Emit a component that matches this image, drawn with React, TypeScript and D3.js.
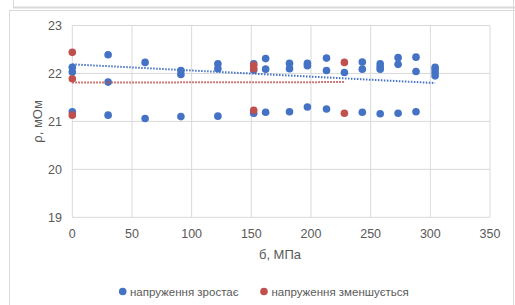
import * as d3 from "d3";

// напруження зростає (blue)
const incX = [0, 0, 0, 30, 30, 30, 61, 61, 91, 91, 91, 122, 122, 122, 152, 152, 152, 162, 162, 162, 182, 182, 182, 197, 197, 197, 213, 213, 213, 228, 243, 243, 243, 258, 258, 258, 258, 273, 273, 273, 288, 288, 288, 304, 304, 304, 304];
const incY = [22.13, 22.03, 21.2, 22.39, 21.82, 21.13, 22.23, 21.06, 22.06, 21.98, 21.1, 22.2, 22.1, 21.11, 22.2, 22.07, 21.17, 22.31, 22.09, 21.19, 22.21, 22.1, 21.2, 22.21, 22.16, 21.3, 22.32, 22.06, 21.26, 22.02, 22.24, 22.09, 21.19, 22.2, 22.14, 22.09, 21.16, 22.33, 22.19, 21.17, 22.34, 22.04, 21.2, 22.13, 22.08, 22.02, 21.95];
// напруження зменшується (red)
const decX = [0, 0, 0, 152, 152, 152, 228, 228];
const decY = [22.44, 21.89, 21.13, 22.17, 22.1, 21.23, 22.23, 21.17];
// linear trend lines
const incTrendX = [0, 304];
const incTrendY = [22.19, 21.8];
const decTrendX = [0, 228];
const decTrendY = [21.81, 21.82];

const xTicks = [0, 50, 100, 150, 200, 250, 300, 350];
const yTicks = [19, 20, 21, 22, 23];
const seriesNames = ["напруження зростає", "напруження зменшується"];
const BLUE = "#4472C4", RED = "#C0504D";

export default function App() {
  const W = 515, H = 305;
  const sx = d3.scaleLinear().domain([0, 350]).range([72.3, 490]);
  const sy = d3.scaleLinear().domain([19, 23]).range([217.3, 25.5]);
  const font = "'Liberation Sans', Arial, sans-serif";
  const trend = (xs: number[], ys: number[]) =>
    d3.line<number>().x(v => sx(v)).y((_, i) => sy(ys[i]))(xs) || "";
  return (
    <svg width={W} height={H} style={{ position: "fixed", left: 0, top: 0, background: "#fff", fontFamily: font }}>
      <rect x={0} y={0} width={W} height={H} fill="#fff" />
      {/* frames */}
      <line x1={13} x2={W} y1={7.5} y2={7.5} stroke="#d9d9d9" strokeWidth={2} />
      <line x1={13.5} x2={13.5} y1={0} y2={7} stroke="#d9d9d9" />
      <line x1={9.5} x2={W} y1={10.5} y2={10.5} stroke="#d9d9d9" />
      <line x1={9.5} x2={9.5} y1={10} y2={H} stroke="#d9d9d9" />
      <line x1={513.5} x2={513.5} y1={0} y2={H} stroke="#d9d9d9" />
      {/* grid */}
      {xTicks.map(t => <line key={"gx" + t} x1={sx(t)} x2={sx(t)} y1={sy(23)} y2={sy(19)} stroke="#d9d9d9" />)}
      {yTicks.map(t => <line key={"gy" + t} x1={sx(0)} x2={sx(350)} y1={sy(t)} y2={sy(t)} stroke="#d9d9d9" />)}
      {/* ticks */}
      {yTicks.map(t => <text key={"ty" + t} x={62} y={sy(t) + 4.5} textAnchor="end" fontSize={12.5} fill="#595959">{t}</text>)}
      {xTicks.map(t => <text key={"tx" + t} x={sx(t)} y={238} textAnchor="middle" fontSize={12.5} fill="#595959">{t}</text>)}
      <text x={280} y={259} textAnchor="middle" fontSize={13} fill="#595959">б, МПа</text>
      <text transform={`translate(42 ${(sy(23) + sy(19)) / 2}) rotate(-90)`} textAnchor="middle" fontSize={13} fill="#595959">ρ, мОм</text>
      {/* points */}
      {incX.map((x, i) => <circle key={"b" + i} cx={sx(x)} cy={sy(incY[i])} r={3.8} fill={BLUE} />)}
      {decX.map((x, i) => <circle key={"r" + i} cx={sx(x)} cy={sy(decY[i])} r={3.8} fill={RED} />)}
      {/* trend lines */}
      <path d={trend(incTrendX, incTrendY)} fill="none" stroke={BLUE} strokeWidth={2} strokeDasharray="1.5 1.5" />
      <path d={trend(decTrendX, decTrendY)} fill="none" stroke={RED} strokeWidth={2} strokeDasharray="1.5 1.5" />
      {/* legend */}
      <circle cx={122.7} cy={291.5} r={3.8} fill={BLUE} />
      <text x={130} y={295.5} fontSize={11.5} fill="#595959">{seriesNames[0]}</text>
      <circle cx={264} cy={291.5} r={3.8} fill={RED} />
      <text x={271.5} y={295.5} fontSize={11.5} fill="#595959">{seriesNames[1]}</text>
    </svg>
  );
}
